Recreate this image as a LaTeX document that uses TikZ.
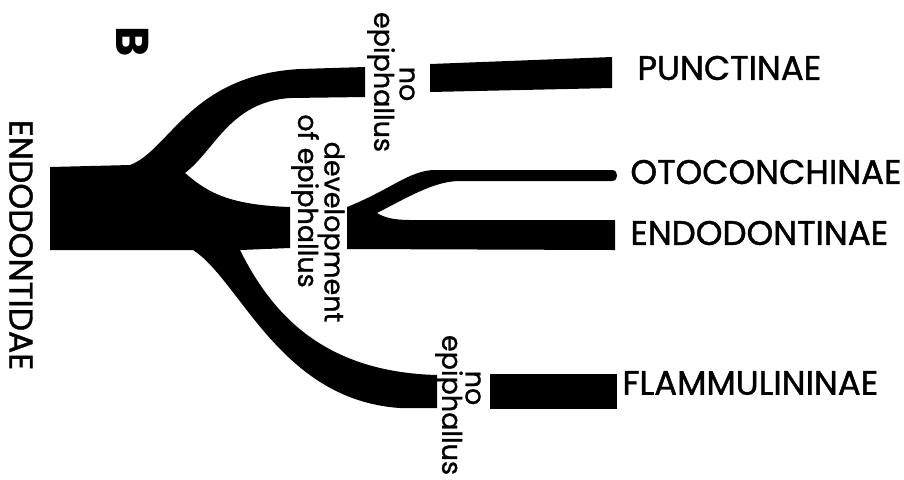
\documentclass[tikz,border=0pt]{standalone}
\usepackage{fontspec}
\setmainfont{Poppins}

\begin{document}
\begin{tikzpicture}[x=0.5pt, y=-0.5pt,
    taxon/.style={anchor=west, inner sep=0pt, font=\fontsize{17}{20}\selectfont\addfontfeatures{FakeBold=1.2}},
    note/.style={rotate=-90, inner sep=0pt, font=\fontsize{13.5}{14}\selectfont\addfontfeatures{FakeBold=1}}]
\useasboundingbox (0,0) rectangle (904,479);

% trunk with its three branches
\fill (50,167) -- (130,165) .. controls (170,150) and (190,75) .. (300,69) -- (365,67)
  -- (365,97) -- (290,98) .. controls (230,102) and (215,150) .. (185,173)
  .. controls (205,190) and (225,205) .. (290,207) -- (290,248) -- (240,250)
  .. controls (270,310) and (320,372) .. (437,375) -- (437,408) -- (400,408)
  .. controls (280,400) and (240,280) .. (193,250) -- (50,250) -- cycle;

% right hand parts
\fill (430,64) -- (612,57) -- (612,88) -- (430,92) -- cycle;
\fill (347,207) .. controls (390,190) and (410,170) .. (435,170) -- (612,170)
  to[out=0, in=0, looseness=1.6] (612,181) -- (460,181)
  .. controls (435,181) and (410,196) .. (377,213)
  .. controls (385,218) and (395,220) .. (410,220) -- (615,220) -- (615,250)
  -- (347,249) -- cycle;
\fill (490,374) rectangle (617,409);

% labels
\node[rotate=-90, inner sep=0pt, font=\bfseries\fontsize{23}{25}\selectfont] (panel) at (133,42) {B};
\node[rotate=-90, inner sep=0pt, font=\fontsize{16.5}{18}\selectfont\addfontfeatures{FakeBold=1.2}] (root) at (21,245) {ENDODONTIDAE};
\node[taxon] (punct) at (637,68) {PUNCTINAE};
\node[taxon] (otoc) at (630,172) {OTOCONCHINAE};
\node[taxon] (endo) at (630,233) {ENDODONTINAE};
\node[taxon] (flamm) at (622,383) {FLAMMULININAE};

\node[note] (noA) at (407,84) {no};
\node[note] (epiA) at (381,82) {epiphallus};
\node[note] (devel) at (331,232) {development};
\node[note] (devepi) at (305,201) {of epiphallus};
\node[note] (noB) at (473,388) {no};
\node[note] (epiB) at (449,405) {epiphallus};
\end{tikzpicture}
\end{document}
